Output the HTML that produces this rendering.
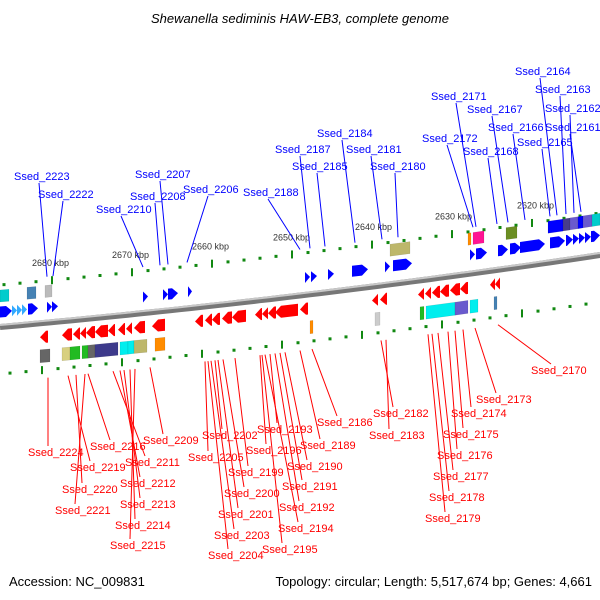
<!DOCTYPE html>
<html><head><meta charset="utf-8">
<style>
html,body{margin:0;padding:0;background:#fff;width:600px;height:600px;overflow:hidden}
svg{display:block;font-family:"Liberation Sans","DejaVu Sans",sans-serif}
</style></head>
<body>
<svg id="map" width="600" height="600" viewBox="0 0 600 600">
<text x="300" y="23" text-anchor="middle" font-size="13" font-style="italic" fill="#000">Shewanella sediminis HAW-EB3, complete genome</text>
<text x="9" y="586" font-size="13" fill="#000">Accession: NC_009831</text>
<text x="592" y="586" text-anchor="end" font-size="13" fill="#000">Topology: circular; Length: 5,517,674 bp; Genes: 4,661</text>
</svg>
<script>
// tick labels (kbp) and their x positions along the map
const tickKbp = [2680,2670,2660,2650,2640,2630,2620];
const tickX = [52,132,212,293,375,455,537];
// forward genes: [start x, end x, color]
const fwdGenes = [[0,12,'#0000ff'],[12,17,'#33aaff'],[17,22,'#33aaff'],[22,27,'#33aaff'],[28,38,'#0000ff'],[47,52,'#0000ff'],[52,58,'#0000ff'],[143,148,'#0000ff'],[163,168,'#0000ff'],[168,178,'#0000ff'],[188,192,'#0000ff'],[305,310,'#0000ff'],[311,317,'#0000ff'],[328,334,'#0000ff'],[352,368,'#0000ff'],[385,390,'#0000ff'],[393,412,'#0000ff'],[470,475,'#0000ff'],[476,487,'#0000ff'],[498,508,'#0000ff'],[510,521,'#0000ff'],[520,545,'#0000ff'],[550,565,'#0000ff'],[566,573,'#0000ff'],[573,579,'#0000ff'],[579,585,'#0000ff'],[585,591,'#0000ff'],[591,600,'#0000ff']];
// forward COG boxes: [start, end, color]
const fwdBoxes = [[0,9,'#00cccc'],[27,36,'#4682b4'],[45,52,'#bbbbbb'],[390,410,'#bdb76b'],[468,471,'#ff8c00'],[473,484,'#ff1493'],[506,517,'#6b8e23'],[548,563,'#0000ff'],[563,570,'#483d8b'],[570,578,'#6a5acd'],[578,583,'#0000ff'],[583,592,'#6a5acd'],[592,600,'#00cccc']];
// reverse genes
const revGenes = [[40,48],[62,72],[73,80],[80,86],[86,95],[95,108],[108,115],[118,125],[126,132],[134,145],[152,165],[195,203],[205,212],[212,220],[222,232],[232,246],[255,262],[262,268],[268,276],[275,298],[300,308],[372,378],[380,387],[418,424],[425,431],[432,440],[440,449],[450,460],[460,468],[490,495],[495,500]];
// reverse COG boxes
const revBoxes = [[40,50,'#666666'],[62,70,'#d8d080'],[70,80,'#22bb22'],[82,88,'#22bb22'],[88,95,'#666666'],[95,118,'#3d3a8b'],[120,128,'#00eeee'],[128,134,'#00eeee'],[134,147,'#bdb76b'],[155,165,'#ff8c00'],[310,313,'#ff8c00'],[375,380,'#cccccc'],[420,424,'#22bb22'],[426,455,'#00eeee'],[455,468,'#6a5acd'],[470,478,'#00eeee'],[494,497,'#4682b4']];
// blue labels: [name, text x, text y, anchor x on track]
const fwdLabels = [['Ssed_2223',14,180,47],['Ssed_2222',38,198,53],['Ssed_2210',96,213,143],['Ssed_2208',130,200,160],['Ssed_2207',135,178,168],['Ssed_2206',183,193,187],['Ssed_2188',243,196,300],['Ssed_2187',275,153,310],['Ssed_2185',292,170,325],['Ssed_2184',317,137,355],['Ssed_2181',346,153,382],['Ssed_2180',370,170,398],['Ssed_2172',422,142,473],['Ssed_2171',431,100,476],['Ssed_2168',463,155,497],['Ssed_2167',467,113,508],['Ssed_2166',488,131,525],['Ssed_2165',517,146,550],['Ssed_2164',515,75,557],['Ssed_2163',535,93,566],['Ssed_2162',545,112,574],['Ssed_2161',545,131,581]];
// red labels: [name, text x, text y, anchor x on track]
const revLabels = [['Ssed_2224',28,456,48],['Ssed_2219',70,471,68],['Ssed_2220',62,493,76],['Ssed_2221',55,514,85],['Ssed_2216',90,450,88],['Ssed_2211',125,466,113],['Ssed_2212',120,487,120],['Ssed_2213',120,508,124],['Ssed_2214',115,529,130],['Ssed_2215',110,549,135],['Ssed_2209',143,444,150],['Ssed_2202',202,439,215],['Ssed_2205',188,461,205],['Ssed_2199',228,476,235],['Ssed_2200',224,497,223],['Ssed_2201',218,518,218],['Ssed_2203',214,539,211],['Ssed_2204',208,559,208],['Ssed_2193',257,433,270],['Ssed_2196',246,454,260],['Ssed_2190',287,470,285],['Ssed_2191',282,490,280],['Ssed_2192',279,511,275],['Ssed_2194',278,532,265],['Ssed_2195',262,553,262],['Ssed_2189',300,449,300],['Ssed_2186',317,426,312],['Ssed_2182',373,417,381],['Ssed_2183',369,439,386],['Ssed_2173',476,403,475],['Ssed_2174',451,417,463],['Ssed_2175',443,438,455],['Ssed_2176',437,459,448],['Ssed_2177',433,480,438],['Ssed_2178',429,501,432],['Ssed_2179',425,522,428],['Ssed_2170',531,374,498]];

const NS='http://www.w3.org/2000/svg';
const svg=document.getElementById('map');
function bb(x){return 327-0.09*x-0.00005*x*x;}
function mk(tag,attrs){const e=document.createElementNS(NS,tag);for(const k in attrs)e.setAttribute(k,attrs[k]);svg.appendChild(e);return e;}

let d='M0,'+bb(0);for(let x=10;x<=600;x+=10)d+=' L'+x+','+bb(x).toFixed(1);
const b1=mk('path',{d:d,stroke:'#777',fill:'none','stroke-width':6});


const b2=mk('path',{d:d,stroke:'#c8c8c8',fill:'none','stroke-width':2,transform:'translate(0,-2)'});



function dotted(off,shift,name){
  for(let i=0;i<40;i++){
    const x=tickX[0]-16*5+16*i+shift;
    if(x<0||x>600)continue;
    const y=bb(x)+off;
    const major=((i)%5)===0;
    const r=major?mk('rect',{x:x-1,y:y-4,width:2,height:8,fill:'#118811'}):mk('rect',{x:x-1.5,y:y-1.5,width:3,height:3,fill:'#118811'});
    
    
  }
}
dotted(-42,0,'upper-scale');
dotted(47,-10,'lower-scale');

tickKbp.forEach((k,i)=>{
  const x=tickX[i];
  const t=mk('text',{x:x-20,y:bb(x)-56,'font-size':9,fill:'#333'});
  t.textContent=k+' kbp';
  
  
});

function arrow(x1,x2,off,h,fwd,color,name){
  const hl=Math.min(6,(x2-x1));
  let pts;
  if(fwd){
    const xa=x2-hl;
    pts=[[x1,bb(x1)+off-h/2],[xa,bb(xa)+off-h/2],[x2,bb(x2)+off],[xa,bb(xa)+off+h/2],[x1,bb(x1)+off+h/2]];
  }else{
    const xa=x1+hl;
    pts=[[x2,bb(x2)+off-h/2],[xa,bb(xa)+off-h/2],[x1,bb(x1)+off],[xa,bb(xa)+off+h/2],[x2,bb(x2)+off+h/2]];
  }
  const p=mk('polygon',{points:pts.map(q=>q[0].toFixed(1)+','+q[1].toFixed(1)).join(' '),fill:color});
  
  
}
function box(x1,x2,off,h,color,name){
  const p=mk('polygon',{points:[[x1,bb(x1)+off-h/2],[x2,bb(x2)+off-h/2],[x2,bb(x2)+off+h/2],[x1,bb(x1)+off+h/2]].map(q=>q[0].toFixed(1)+','+q[1].toFixed(1)).join(' '),fill:color,stroke:'rgba(0,0,0,0.15)','stroke-width':0.5});
  
  
}
fwdGenes.forEach(g=>arrow(g[0],g[1],-15-0.008*g[0],11,true,g[2],'forward-gene'));
fwdBoxes.forEach(g=>box(g[0],g[1],-31-0.008*g[0],12,g[2],'forward-cog-box'));
revGenes.forEach(g=>arrow(g[0],g[1],14,12,false,'#ff0000','reverse-gene'));
revBoxes.forEach(g=>box(g[0],g[1],33,13,g[2],'reverse-cog-box'));

fwdLabels.forEach(l=>{
  const [n,tx,ty,ax]=l;
  const ln=mk('line',{x1:tx+25,y1:ty+3,x2:ax,y2:bb(ax)-46,stroke:'#0000ff','stroke-width':1});
  
  
  const t=mk('text',{x:tx,y:ty,'font-size':11,fill:'#0000ff'});
  t.textContent=n;
  
  
});
revLabels.forEach(l=>{
  const [n,tx,ty,ax]=l;
  const ln=mk('line',{x1:ax,y1:bb(ax)+55,x2:tx+20,y2:ty-10,stroke:'#ff0000','stroke-width':1});
  
  
  const t=mk('text',{x:tx,y:ty,'font-size':11,fill:'#ff0000'});
  t.textContent=n;
  
  
});
</script>
</body></html>
